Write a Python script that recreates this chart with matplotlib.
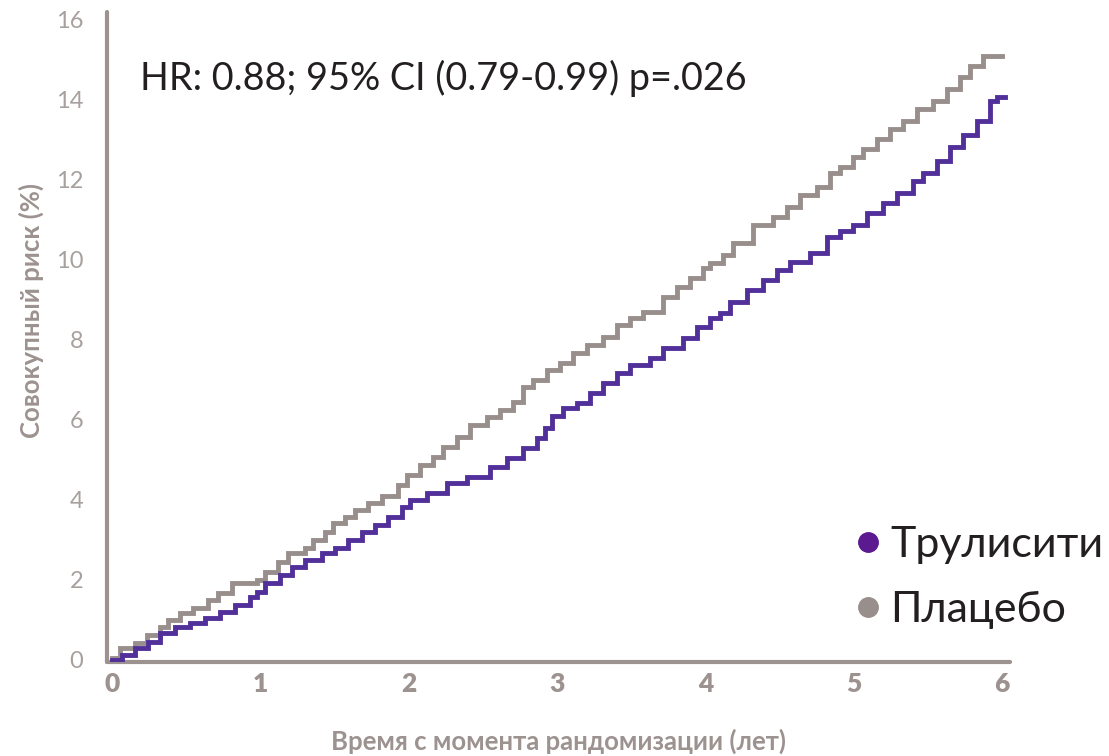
import matplotlib
matplotlib.use("Agg")
import matplotlib.pyplot as plt
from matplotlib.lines import Line2D

# ---- data ----
placebo_t = [0.0, 0.054, 0.155, 0.236, 0.324, 0.378, 0.459, 0.546, 0.647, 0.715, 0.809,
             0.978, 1.032, 1.119, 1.187, 1.301, 1.355, 1.436, 1.490, 1.571, 1.639, 1.726,
             1.821, 1.929, 1.989, 2.077, 2.165, 2.232, 2.326, 2.414, 2.529, 2.616, 2.704,
             2.771, 2.839, 2.933, 3.021, 3.109, 3.203, 3.311, 3.405, 3.493, 3.581, 3.715,
             3.810, 3.897, 3.985, 4.032, 4.120, 4.187, 4.322, 4.457, 4.552, 4.639, 4.754,
             4.842, 4.909, 4.997, 5.064, 5.158, 5.246, 5.334, 5.428, 5.536, 5.630, 5.718,
             5.786, 5.873, 6.0]
placebo_v = [0.05, 0.3, 0.42, 0.62, 0.82, 1.0, 1.17, 1.3, 1.5, 1.67, 1.92,
             2.0, 2.2, 2.45, 2.67, 2.8, 3.0, 3.2, 3.42, 3.57, 3.75, 3.92,
             4.1, 4.37, 4.62, 4.87, 5.07, 5.32, 5.57, 5.87, 6.07, 6.25, 6.45,
             6.82, 7.0, 7.25, 7.42, 7.67, 7.87, 8.07, 8.37, 8.55, 8.7, 9.07,
             9.32, 9.55, 9.8, 9.92, 10.12, 10.42, 10.87, 11.07, 11.32, 11.62, 11.8,
             12.17, 12.32, 12.55, 12.75, 13.0, 13.25, 13.45, 13.75, 13.95, 14.25, 14.55,
             14.82, 15.07, 15.07]

trulicity_t = [0.0, 0.067, 0.155, 0.243, 0.324, 0.425, 0.526, 0.627, 0.728, 0.829, 0.931,
               0.978, 1.032, 1.133, 1.214, 1.301, 1.416, 1.504, 1.591, 1.686, 1.773, 1.861,
               1.955, 2.009, 2.124, 2.259, 2.394, 2.549, 2.663, 2.771, 2.866, 2.920, 2.970,
               3.041, 3.136, 3.223, 3.311, 3.405, 3.493, 3.628, 3.715, 3.850, 3.945, 4.032,
               4.100, 4.167, 4.282, 4.390, 4.484, 4.572, 4.707, 4.821, 4.909, 4.997, 5.091,
               5.199, 5.293, 5.401, 5.469, 5.563, 5.651, 5.738, 5.833, 5.920, 5.968, 6.02]
trulicity_v = [0.0, 0.12, 0.3, 0.45, 0.67, 0.83, 0.92, 1.05, 1.2, 1.37, 1.57,
               1.7, 1.92, 2.12, 2.32, 2.5, 2.67, 2.8, 3.0, 3.2, 3.37, 3.57,
               3.82, 4.0, 4.17, 4.42, 4.57, 4.82, 5.05, 5.3, 5.55, 5.8, 6.1,
               6.3, 6.42, 6.67, 6.92, 7.17, 7.37, 7.55, 7.8, 8.05, 8.32, 8.55,
               8.67, 8.95, 9.25, 9.5, 9.75, 9.95, 10.17, 10.55, 10.7, 10.87, 11.15,
               11.4, 11.65, 11.97, 12.17, 12.47, 12.8, 13.1, 13.47, 13.97, 14.05, 14.05]

x_ticks = [0, 1, 2, 3, 4, 5, 6]
y_ticks = [0, 2, 4, 6, 8, 10, 12, 14, 16]
series_names = ["Трулисити", "Плацебо"]
annotation = "HR: 0.88; 95% CI (0.79-0.99) p=.026"
x_label = "Время с момента рандомизации (лет)"
y_label = "Совокупный риск (%)"

# ---- style ----
purple = "#52309a"
purple_dot = "#5b1a8f"
gray = "#988e8b"
axis_gray = "#9c928f"
tick_gray = "#a8a09d"
text_dark = "#231f20"

fig = plt.figure(figsize=(11.09, 7.56), dpi=100)
ax = fig.add_axes([107/1109, 1 - 662/756, (1010 - 107)/1109, (662 - 12)/756])

ax.plot(placebo_t, placebo_v, drawstyle="steps-post", color=gray, lw=3.5,
        solid_joinstyle="miter", zorder=3)
ax.plot(trulicity_t, trulicity_v, drawstyle="steps-post", color=purple, lw=3.5,
        solid_joinstyle="miter", zorder=4)

ax.set_xlim(-0.034, 6.055)
ax.set_ylim(-0.05, 16.18)

for s in ["top", "right"]:
    ax.spines[s].set_visible(False)
for s in ["left", "bottom"]:
    ax.spines[s].set_color(axis_gray)
    ax.spines[s].set_linewidth(3.0)
    ax.spines[s].set_capstyle("round")

ax.set_xticks(x_ticks)
ax.set_xticklabels([str(v) for v in x_ticks], family="Lato", fontweight="heavy",
                   fontsize=19, color=axis_gray)
ax.set_yticks(y_ticks)
ax.set_yticklabels([str(v) for v in y_ticks], family="Lato", fontweight="normal",
                   fontsize=17, color=tick_gray)
ax.tick_params(axis="x", length=0, pad=7)
ax.tick_params(axis="y", length=0, pad=17)

ax.set_xlabel(x_label, family="Lato", fontweight="bold", fontsize=18.5,
              color=axis_gray, labelpad=24)
ax.set_ylabel(y_label, family="Lato", fontweight="bold", fontsize=18.5,
              color=axis_gray, va="center")
ax.yaxis.set_label_coords((31 - 107)/903, (662 - 310)/650)

ax.text(140/1109, 1 - 78/756, annotation, transform=fig.transFigure,
        family="Lato", fontsize=27.2, color=text_dark, va="center", ha="left")

# legend
handles = [Line2D([], [], ls="none", marker="o", markersize=14, color=purple_dot),
           Line2D([], [], ls="none", marker="o", markersize=14, color=gray)]
leg = fig.legend(handles, series_names, loc="upper left",
                 bbox_to_anchor=(858/1109, 1 - 526/756), frameon=False,
                 prop={"family": "Lato", "size": 31}, labelcolor=text_dark,
                 handlelength=0.45, handletextpad=0.3, labelspacing=0.62,
                 borderpad=0, borderaxespad=0)

fig.savefig("out.png", dpi=100, facecolor="white")
